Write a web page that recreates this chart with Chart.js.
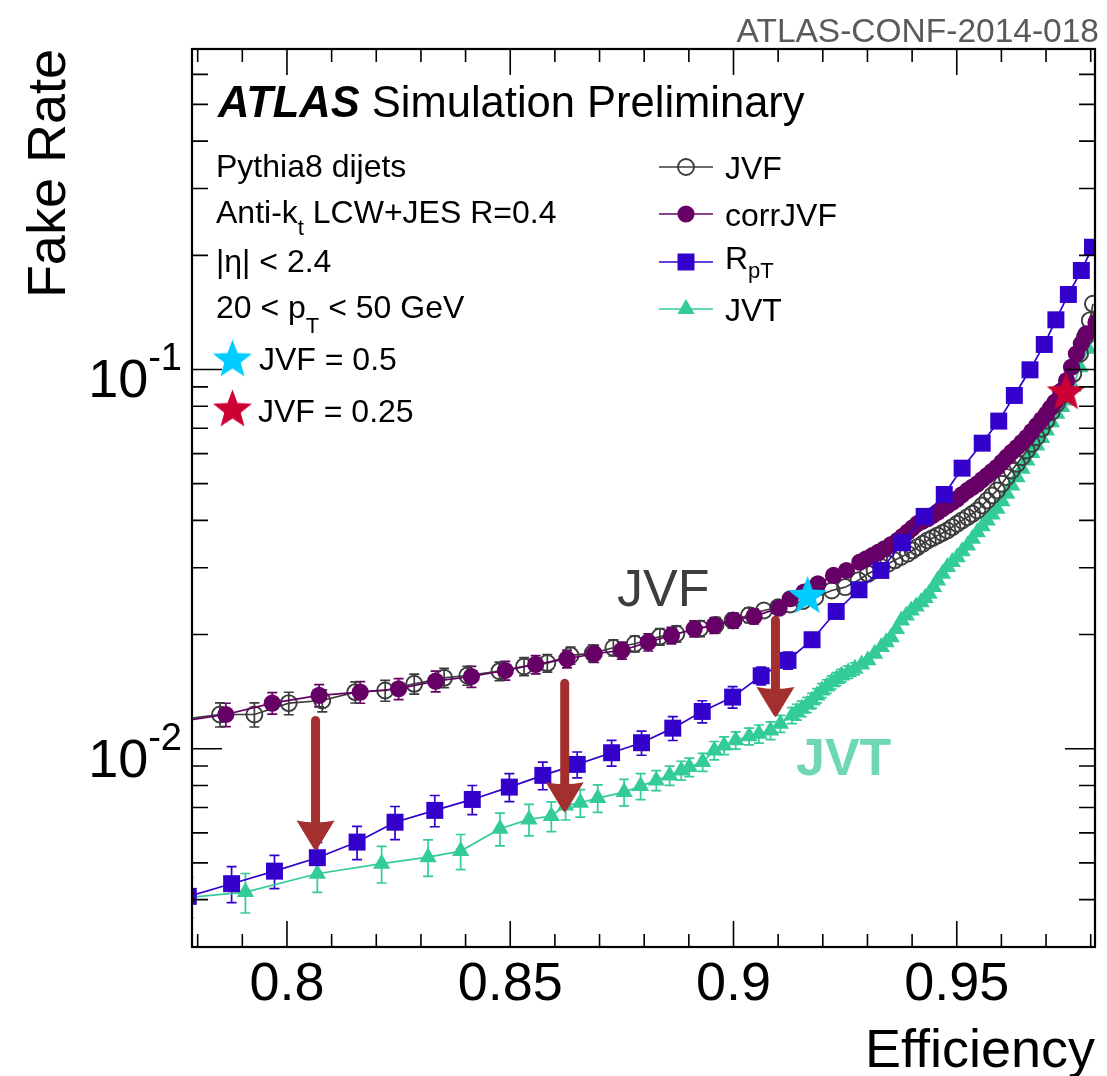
<!DOCTYPE html>
<html>
<head>
<meta charset="utf-8">
<script src="https://cdn.jsdelivr.net/npm/chart.js@4.4.0/dist/chart.umd.min.js"></script>
<style>
body{margin:0;background:#fff;}
#wrap{width:1107px;height:1076px;position:relative;}
</style>
</head>
<body>
<div id="wrap"><canvas id="fakeChart"></canvas></div>
<script>
// axis ranges and ticks
const xMin = 0.77873, xMax = 0.98096;
const yMin = 0.003, yMax = 0.7;
const xMajorTicks = [0.8, 0.85, 0.9, 0.95];
const xTickLabels = ['0.8', '0.85', '0.9', '0.95'];
const xMinorTicks = [0.78,0.79,0.81,0.82,0.83,0.84,0.86,0.87,0.88,0.89,0.91,0.92,0.93,0.94,0.96,0.97,0.98];
const yMajorTicks = [0.01, 0.1];
const yTickExp = ['-2', '-1'];
const yMinorTicks = [0.003,0.004,0.005,0.006,0.007,0.008,0.009,0.02,0.03,0.04,0.05,0.06,0.07,0.08,0.09,0.2,0.3,0.4,0.5,0.6];

// JVF (open circles)
const jvfEff = [0.7755,0.7850,0.7927,0.8004,0.8079,0.8153,0.8220,0.8285,0.8352,0.8404,0.8476,0.8531,0.8583,0.8635,0.8685,0.8731,0.8779,0.8835,0.8872,0.8925,0.8960,0.8998,0.9035,0.9068,0.9100,0.9127,0.9155,0.9183,0.9220,0.9250,
	0.9280,0.9301,0.9316,0.9331,0.9346,0.9361,0.9375,0.9390,0.9401,0.9412,0.9424,0.9435,0.9446,0.9457,0.9468,0.9479,0.9490,0.9501,0.9512,0.9524,0.9535,0.9546,0.9557,0.9568,0.9579,0.9590,0.9601,0.9612,0.9623,0.9635,0.9646,0.9657,0.9668,0.9679,0.9690,0.9701,0.9712,0.9724,0.9733,0.9742,0.9761,0.9776,0.9787,0.9798,0.9805];
const jvfRate = [0.0119,0.01231,0.01231,0.01319,0.0134,0.0141,0.01424,0.01483,0.01538,0.0156,0.01601,0.01648,0.01682,0.01762,0.01787,0.01846,0.01891,0.01975,0.0201,0.02075,0.0212,0.02179,0.0225,0.02314,0.0236,0.024,0.0245,0.0251,0.02614,0.02667,
	0.0278,0.02892,0.02952,0.03012,0.03075,0.03138,0.03202,0.03267,0.03333,0.03401,0.03471,0.03542,0.03596,0.03651,0.03706,0.03762,0.0384,0.0392,0.04,0.0408,0.04163,0.04248,0.04378,0.04513,0.04653,0.04797,0.04995,0.05201,0.05415,0.05638,0.05871,0.06114,0.06366,0.06627,0.06972,0.07334,0.07718,0.08123,0.085,0.089,0.0974,0.110,0.1217,0.1347,0.149];
// error bars only where they stick out of the markers
const jvfErr = [0.0009,0.0009,0.0009,0.0009,0.0009,0.0009,0.0009,0.0009,0.0009,0.0009,0.0009,0.0009,0.0009,0.0009,0.0009,0.0009,0.0009,0.001,0.001,0.001,0.001,0.001,0.001];

// corrJVF (filled circles)
const corrEff = [0.7760,0.7863,0.7967,0.8072,0.8164,0.8250,0.8333,0.8413,0.8489,0.8557,0.8627,0.8688,0.8750,0.8809,0.8861,0.8912,0.8957,0.9001,0.9046,0.9102,0.9127,0.9158,0.9189,0.9224,0.9253,
	0.9283,0.9297,0.9312,0.9325,0.9338,0.9353,0.9368,0.9379,0.9390,0.9401,0.9412,0.9423,0.9435,0.9446,0.9457,0.9468,0.9479,0.9490,0.9501,0.9512,0.9524,0.9535,0.9546,0.9557,0.9568,0.9579,0.9590,0.9601,0.9612,0.9623,0.9635,0.9646,0.9657,0.9668,0.9679,0.9690,0.9701,0.9710,0.9720,0.9733,0.9746,0.9757,0.9768,0.9779,0.9790,0.9812];
const corrRate = [0.0118,0.01231,0.01319,0.01382,0.01410,0.01439,0.01507,0.01550,0.01608,0.01668,0.01726,0.01780,0.01816,0.0191,0.01989,0.02072,0.02114,0.02179,0.02233,0.02348,0.02486,0.0259,0.02723,0.02863,0.02951,
	0.03104,0.03168,0.03233,0.0330,0.03367,0.03453,0.03542,0.03632,0.03724,0.03821,0.0392,0.0398,0.0404,0.04122,0.04206,0.04292,0.0438,0.04469,0.0456,0.04677,0.04797,0.04895,0.04995,0.05122,0.05253,0.05387,0.05524,0.05695,0.05871,0.06051,0.06236,0.06429,0.06627,0.06868,0.07118,0.07375,0.07641,0.07916,0.0820,0.0876,0.0935,0.1014,0.110,0.1169,0.1242,0.1332];
const corrErr = [0.0009,0.00087,0.00086,0.00093,0.00092,0.00091,0.00095,0.00098,0.00092,0.00092,0.00092,0.00092,0.00094,0.001,0.001,0.001,0.001,0.001,0.001];

// R_pT (filled squares)
const rptEff = [0.7779,0.7876,0.7972,0.8068,0.8157,0.8242,0.8331,0.8415,0.8498,0.8573,0.8650,0.8727,0.8794,0.8864,0.8930,0.8998,0.9062,0.9122,0.9176,0.9230,0.9281,0.9330,0.9378,0.9427,0.9472,0.9512,0.9557,0.9594,0.9629,0.9664,0.9696,0.9722,0.9750,0.9779,0.9804];
const rptRate = [0.00408,0.004406,0.004755,0.005159,0.005672,0.0064,0.006876,0.007349,0.007921,0.008505,0.009091,0.009759,0.01037,0.01133,0.01254,0.01368,0.01557,0.0171,0.01938,0.02301,0.02625,0.02952,0.03492,0.04099,0.04682,0.05493,0.06393,0.0731,0.0854,0.0998,0.1164,0.1352,0.1577,0.1824,0.2101];
const rptErr = [0.0005,0.00048,0.00048,0.0005,0.00057,0.00064,0.00065,0.00065,0.00067,0.00071,0.00071,0.00076,0.00076,0.00082,0.00084,0.00089,0.00084,0.00088];

// JVT (filled triangles)
const jvtEff = [0.7765,0.7907,0.8068,0.8212,0.8316,0.8389,0.8477,0.8542,0.8592,0.8624,0.8657,0.8696,0.8755,0.8792,0.8827,0.8857,0.8883,0.8901,0.8931,0.8957,0.8979,0.9005,0.9035,0.9057,0.9083,0.9105,
	0.9131,0.9142,0.9153,0.9165,0.9176,0.9187,0.9198,0.9209,0.9220,0.9231,0.9242,0.9257,0.9272,0.9287,0.9301,0.9316,0.9331,0.9342,0.9353,0.9365,0.9376,0.9387,0.9398,0.9409,0.9420,0.9429,0.9438,0.9448,0.9457,0.9468,0.9479,0.9490,0.9501,0.9512,0.9524,0.9535,0.9546,0.9557,0.9568,0.9579,0.9590,0.9601,0.9612,0.9623,0.9635,0.9646,0.9657,0.9668,0.9679,0.9690,0.9701,0.9712,0.9724,0.9735,0.9746,0.9760,0.9776,0.9794,0.9808];
const jvtRate = [0.00404,0.004188,0.004681,0.004975,0.005177,0.00537,0.006151,0.00651,0.006644,0.007087,0.007204,0.00741,0.007685,0.00797,0.008249,0.0085,0.008767,0.008944,0.009219,0.009897,0.0102,0.01052,0.01078,0.01095,0.01117,0.01164,
	0.01224,0.0125,0.01275,0.01306,0.0134,0.01381,0.01424,0.0146,0.01497,0.01528,0.0156,0.01592,0.01625,0.01667,0.0171,0.0178,0.01853,0.0191,0.01968,0.0207,0.02179,0.02246,0.02314,0.02373,0.02434,0.02497,0.02562,0.02668,0.02778,0.02893,0.03012,0.03105,0.032,0.03316,0.03436,0.03577,0.03724,0.03858,0.03998,0.04143,0.04293,0.04493,0.04703,0.04946,0.05201,0.0547,0.05754,0.06022,0.06303,0.06597,0.06906,0.07264,0.07641,0.07957,0.08286,0.0900,0.1014,0.1134,0.1217];
const jvtErr = [0.0005,0.0005,0.0005,0.00055,0.00057,0.00057,0.00061,0.00062,0.0006,0.0006,0.0006,0.00062,0.00062,0.00063,0.0005,0.0005,0.0005,0.0005,0.0005,0.00055,0.00055,0.00055,0.00055,0.0006,0.0006,0.0006,
	0.0006,0.0006,0.0006,0.0006,0.0006,0.0006,0.0006,0.0006,0.0006,0.0006,0.0006,0.0006,0.0006];

// working points (stars)
const starEff = [0.9166, 0.9745];
const starRate = [0.0252, 0.0868];
const starColors = ['#00ccff', '#cc0033'];

// red arrows: efficiency, start and tip fake rate
const arrowEff = [0.8064, 0.8622, 0.9094];
const arrowFrom = [0.01187, 0.01487, 0.0218];
const arrowTo = [0.00539, 0.0068, 0.01212];

const FONT = '"Liberation Sans", Arial, Helvetica, sans-serif';

function pts(xs, ys){
	let out = [];
	for(let i=0;i<xs.length;i++) out.push({x: xs[i], y: ys[i]});
	return out;
}

function makeStar(color, R){
	let c = document.createElement('canvas');
	c.width = c.height = Math.ceil(2*R+2);
	let g = c.getContext('2d');
	g.fillStyle = color;
	g.beginPath();
	for(let k=0;k<10;k++){
		let r = (k%2) ? R*0.42 : R;
		let a = -Math.PI/2 + k*Math.PI/5;
		g.lineTo(c.width/2 + r*Math.cos(a), c.height/2 + r*Math.sin(a));
	}
	g.closePath();
	g.fill();
	return c;
}

const starImgs = starColors.map(c => makeStar(c, 20.5));

// text with sub/superscripts: runs of [text, size, dy, font-style]
function drawRuns(ctx, x, y, runs, color){
	ctx.fillStyle = color || '#000';
	ctx.textAlign = 'left';
	ctx.textBaseline = 'alphabetic';
	for(const r of runs){
		ctx.font = (r[3] || '') + ' ' + r[1] + 'px ' + FONT;
		ctx.fillText(r[0], x, y + (r[2] || 0));
		x += ctx.measureText(r[0]).width;
	}
}

function marker(ctx, style, radius, fill, stroke, bw, x, y){
	ctx.save();
	ctx.fillStyle = fill;
	ctx.strokeStyle = stroke;
	ctx.lineWidth = bw;
	Chart.helpers.drawPoint(ctx, {pointStyle: style, radius: radius, borderWidth: bw, rotation: 0}, x, y);
	ctx.restore();
}

const errorBars = {
	id: 'errorBars',
	beforeDatasetsDraw(chart){
		const ctx = chart.ctx, ys = chart.scales.y, a = chart.chartArea;
		ctx.save();
		ctx.beginPath();
		ctx.rect(a.left, a.top, a.right-a.left, a.bottom-a.top);
		ctx.clip();
		chart.data.datasets.forEach((ds, di) => {
			if(!ds.errs) return;
			const meta = chart.getDatasetMeta(di);
			ctx.strokeStyle = ds.borderColor;
			ctx.lineWidth = 1.7;
			meta.data.forEach((p, i) => {
				const e = ds.errs[i];
				if(!e) return;
				const v = ds.data[i].y;
				const y1 = ys.getPixelForValue(v+e), y2 = ys.getPixelForValue(v-e);
				ctx.beginPath();
				ctx.moveTo(p.x, y1); ctx.lineTo(p.x, y2);
				ctx.moveTo(p.x-5, y1); ctx.lineTo(p.x+5, y1);
				ctx.moveTo(p.x-5, y2); ctx.lineTo(p.x+5, y2);
				ctx.stroke();
			});
		});
		ctx.restore();
	}
};

const decorations = {
	id: 'decorations',
	afterDatasetsDraw(chart){
		const ctx = chart.ctx, xs = chart.scales.x, ys = chart.scales.y, a = chart.chartArea;
		ctx.save();
		// arrows
		ctx.strokeStyle = '#a3302f';
		ctx.fillStyle = '#a3302f';
		for(let i=0;i<arrowEff.length;i++){
			const px = xs.getPixelForValue(arrowEff[i]);
			const top = ys.getPixelForValue(arrowFrom[i]);
			const tip = ys.getPixelForValue(arrowTo[i]);
			ctx.lineWidth = 9;
			ctx.lineCap = 'round';
			ctx.beginPath();
			ctx.moveTo(px, top);
			ctx.lineTo(px, tip-24);
			ctx.stroke();
			ctx.beginPath();
			ctx.moveTo(px-19, tip-30);
			ctx.quadraticCurveTo(px, tip-26, px+19, tip-30);
			ctx.lineTo(px+2, tip-2);
			ctx.lineTo(px, tip);
			ctx.lineTo(px-2, tip-2);
			ctx.closePath();
			ctx.fill();
		}
		// frame and ticks
		ctx.strokeStyle = '#000';
		ctx.lineCap = 'butt';
		ctx.lineWidth = 1.6;
		ctx.beginPath();
		xMajorTicks.forEach(v => {
			const p = xs.getPixelForValue(v);
			ctx.moveTo(p, a.bottom); ctx.lineTo(p, a.bottom-26);
			ctx.moveTo(p, a.top); ctx.lineTo(p, a.top+26);
		});
		xMinorTicks.forEach(v => {
			const p = xs.getPixelForValue(v);
			ctx.moveTo(p, a.bottom); ctx.lineTo(p, a.bottom-13);
			ctx.moveTo(p, a.top); ctx.lineTo(p, a.top+13);
		});
		yMajorTicks.forEach(v => {
			const p = ys.getPixelForValue(v);
			ctx.moveTo(a.left, p); ctx.lineTo(a.left+30, p);
			ctx.moveTo(a.right, p); ctx.lineTo(a.right-30, p);
		});
		yMinorTicks.forEach(v => {
			const p = ys.getPixelForValue(v);
			ctx.moveTo(a.left, p); ctx.lineTo(a.left+16, p);
			ctx.moveTo(a.right, p); ctx.lineTo(a.right-16, p);
		});
		ctx.stroke();
		ctx.lineWidth = 2.2;
		ctx.strokeRect(a.left, a.top, a.right-a.left, a.bottom-a.top);
		ctx.restore();
	},
	afterDraw(chart){
		const ctx = chart.ctx, xs = chart.scales.x, ys = chart.scales.y, a = chart.chartArea;
		ctx.save();
		// axis tick labels
		ctx.fillStyle = '#000';
		ctx.font = '54px ' + FONT;
		ctx.textAlign = 'center';
		ctx.textBaseline = 'alphabetic';
		xMajorTicks.forEach((v, i) => {
			ctx.fillText(xTickLabels[i], xs.getPixelForValue(v), a.bottom+53);
		});
		yMajorTicks.forEach((v, i) => {
			const p = ys.getPixelForValue(v);
			ctx.textAlign = 'right';
			ctx.font = '38px ' + FONT;
			const w = ctx.measureText(yTickExp[i]).width;
			ctx.fillText(yTickExp[i], a.left-10, p+1);
			ctx.font = '54px ' + FONT;
			ctx.fillText('10', a.left-10-w, p+28);
		});
		// axis titles
		ctx.font = '54px ' + FONT;
		ctx.textAlign = 'right';
		ctx.fillText('Efficiency', a.right, a.bottom+120);
		ctx.save();
		ctx.translate(65, a.top);
		ctx.rotate(-Math.PI/2);
		ctx.fillText('Fake Rate', 0, 0);
		ctx.restore();
		// conf note
		ctx.fillStyle = '#5a5a5a';
		ctx.font = '33.5px ' + FONT;
		ctx.fillText('ATLAS-CONF-2014-018', 1099, 42);

		// ATLAS label and selection text
		drawRuns(ctx, 218, 117, [['ATLAS', 43.5, 0, 'italic bold'], [' Simulation Preliminary', 43.5, 0, '']]);
		drawRuns(ctx, 216, 177, [['Pythia8 dijets', 32]]);
		drawRuns(ctx, 216, 223, [['Anti-k', 32], ['t', 22, 12], [' LCW+JES R=0.4', 32]]);
		drawRuns(ctx, 216, 272, [['|\u03b7| < 2.4', 32]]);
		drawRuns(ctx, 216, 318, [['20 < p', 32], ['T', 22, 15], [' < 50 GeV', 32]]);
		ctx.drawImage(starImgs[0], 232.5-starImgs[0].width/2, 360-starImgs[0].height/2);
		ctx.drawImage(starImgs[1], 232.5-starImgs[1].width/2, 410-starImgs[1].height/2);
		drawRuns(ctx, 259, 370, [['JVF = 0.5', 32]]);
		drawRuns(ctx, 258, 422, [['JVF = 0.25', 32]]);

		// legend
		const rows = [
			{ds: 3, y: 167, runs: [['JVF', 32]], dy: 12},
			{ds: 2, y: 214, runs: [['corrJVF', 32]], dy: 12},
			{ds: 1, y: 262, runs: [['R', 32], ['pT', 22, 9]], dy: 7},
			{ds: 4, y: 309, runs: [['JVT', 32]], dy: 12}
		];
		rows.forEach(r => {
			const d = chart.data.datasets[r.ds];
			ctx.strokeStyle = d.borderColor;
			ctx.lineWidth = 1.6;
			ctx.beginPath();
			ctx.moveTo(659, r.y); ctx.lineTo(713, r.y);
			ctx.stroke();
			marker(ctx, d.pointStyle, d.pointRadius, d.pointBackgroundColor, d.pointBorderColor, d.pointBorderWidth, 686, r.y);
			drawRuns(ctx, 725, r.y + r.dy, r.runs);
		});

		// curve labels
		ctx.textAlign = 'left';
		ctx.fillStyle = '#3d3d3d';
		ctx.font = '52px ' + FONT;
		ctx.fillText('JVF', 617, 606);
		ctx.fillStyle = '#6fd8b2';
		ctx.font = 'bold 52px ' + FONT;
		ctx.fillText('JVT', 796, 775);
		ctx.restore();
	}
};

const ctx = document.getElementById('fakeChart').getContext('2d');
const fakeChart = new Chart(ctx, {
	type: 'scatter',
	data: {
		datasets: [
			{
				label: 'working points',
				data: pts(starEff, starRate),
				pointStyle: starImgs,
				showLine: false,
				borderColor: 'rgba(0,0,0,0)',
				backgroundColor: 'rgba(0,0,0,0)',
				clip: 0
			},
			{
				label: 'RpT',
				data: pts(rptEff, rptRate),
				errs: rptErr,
				showLine: true,
				borderColor: '#3300cc',
				borderWidth: 1.7,
				pointStyle: 'rect',
				pointRadius: 12,
				pointBackgroundColor: '#3300cc',
				pointBorderColor: '#3300cc',
				pointBorderWidth: 0,
				clip: 0
			},
			{
				label: 'corrJVF',
				data: pts(corrEff, corrRate),
				errs: corrErr,
				showLine: true,
				borderColor: '#660066',
				borderWidth: 1.7,
				pointStyle: 'circle',
				pointRadius: 8.6,
				pointBackgroundColor: '#660066',
				pointBorderColor: '#660066',
				pointBorderWidth: 0,
				clip: 0
			},
			{
				label: 'JVF',
				data: pts(jvfEff, jvfRate),
				errs: jvfErr,
				showLine: true,
				borderColor: '#3c3c3c',
				borderWidth: 1.7,
				pointStyle: 'circle',
				pointRadius: 8,
				pointBackgroundColor: 'rgba(255,255,255,0)',
				pointBorderColor: '#3c3c3c',
				pointBorderWidth: 1.9,
				clip: 0
			},
			{
				label: 'JVT',
				data: pts(jvtEff, jvtRate),
				errs: jvtErr,
				showLine: true,
				borderColor: '#33cc99',
				borderWidth: 1.7,
				pointStyle: 'triangle',
				pointRadius: 10,
				pointBackgroundColor: '#33cc99',
				pointBorderColor: '#33cc99',
				pointBorderWidth: 0,
				clip: 0
			}
		]
	},
	options: {
		responsive: true,
		maintainAspectRatio: false,
		animation: false,
		events: [],
		layout: {padding: {left: 192, right: 5, top: 49, bottom: 129}},
		scales: {
			x: {type: 'linear', min: xMin, max: xMax, display: false},
			y: {type: 'logarithmic', min: yMin, max: yMax, display: false}
		},
		plugins: {
			legend: {display: false},
			tooltip: {enabled: false}
		}
	},
	plugins: [errorBars, decorations]
});
</script>
</body>
</html>
